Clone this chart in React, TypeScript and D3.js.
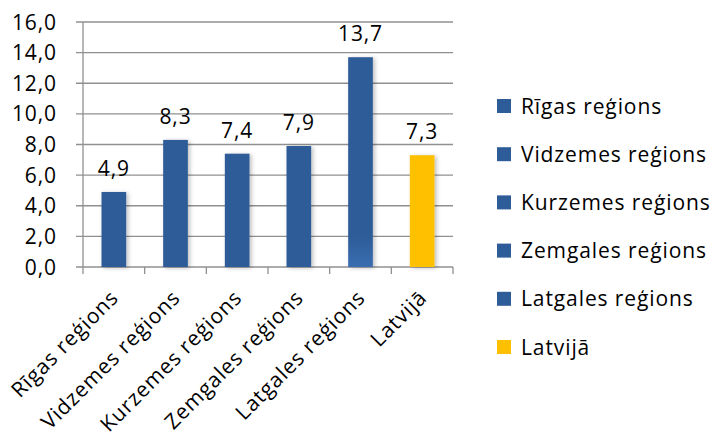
import React from "react";
import * as d3 from "d3";

const categories = ["Rīgas reģions", "Vidzemes reģions", "Kurzemes reģions", "Zemgales reģions", "Latgales reģions", "Latvijā"];
const values = [4.9, 8.3, 7.4, 7.9, 13.7, 7.3];
const colors = ["#2D5C98", "#2D5C98", "#2D5C98", "#2D5C98", "#2D5C98", "#FFC000"];
const yTicks = [0, 2, 4, 6, 8, 10, 12, 14, 16];

const W = 715, H = 432;
const left = 83, right = 453, top = 22, bottom = 267;
const FONT = "'Open Sans', sans-serif";
const FS = 21;
const LS = 0.9;
const fmt = (v: number) => v.toFixed(1).replace(".", ",");

export default function App() {
  const x = d3.scaleBand<string>().domain(categories).range([left, right]).paddingInner(0.6).paddingOuter(0.3);
  const y = d3.scaleLinear().domain([0, 16]).range([bottom, top]);
  const step = x.step();
  const boundaries = d3.range(categories.length + 1).map(i => left + i * step);
  return (
    <svg width={W} height={H} style={{ position: "absolute", left: 0, top: 0, background: "#fff" }} fontFamily={FONT}>
      <defs>
        <filter id="sh" x="-30%" y="-10%" width="160%" height="130%">
          <feDropShadow dx="2" dy="1" stdDeviation="2" floodColor="#000" floodOpacity="0.25" />
        </filter>
        <linearGradient id="lg" x1="0" y1="0" x2="0" y2="1">
          <stop offset="0.85" stopColor="#2D5C98" />
          <stop offset="1" stopColor="#3A6DB0" />
        </linearGradient>
      </defs>
      {yTicks.map(t => (
        <g key={t}>
          <line x1={left - 7} x2={right} y1={y(t)} y2={y(t)} stroke="#909090" strokeWidth={1.3} />
          <text x={57} y={y(t) + 7.5} textAnchor="end" fontSize={FS} letterSpacing={LS} fill="#000">{fmt(t)}</text>
        </g>
      ))}
      <line x1={left} x2={left} y1={top} y2={bottom} stroke="#909090" strokeWidth={1.3} />
      {boundaries.map((b, i) => (
        <line key={i} x1={b} x2={b} y1={bottom} y2={bottom + 7} stroke="#909090" strokeWidth={1.3} />
      ))}
      {categories.map((c, i) => (
        <g key={c}>
          <rect x={x(c)} y={y(values[i])} width={x.bandwidth()} height={bottom - y(values[i])}
            fill={i === 4 ? "url(#lg)" : colors[i]} filter="url(#sh)" />
          <text x={x(c)! + x.bandwidth() / 2} y={y(values[i]) - 16} textAnchor="middle" fontSize={FS} letterSpacing={LS} fill="#000">{fmt(values[i])}</text>
          <text transform={`translate(${x(c)! + x.bandwidth() / 2 + 6},${bottom + 32}) rotate(-45)`} textAnchor="end" fontSize={FS} letterSpacing={LS} fill="#000">{c}</text>
        </g>
      ))}
      {categories.map((c, i) => (
        <g key={"lg" + c} transform={`translate(497,${106 + i * 48.2})`}>
          <rect x={0} y={-7} width={14} height={14} fill={colors[i]} />
          <text x={24} y={7.5} fontSize={FS} letterSpacing={LS} fill="#000">{c}</text>
        </g>
      ))}
    </svg>
  );
}
